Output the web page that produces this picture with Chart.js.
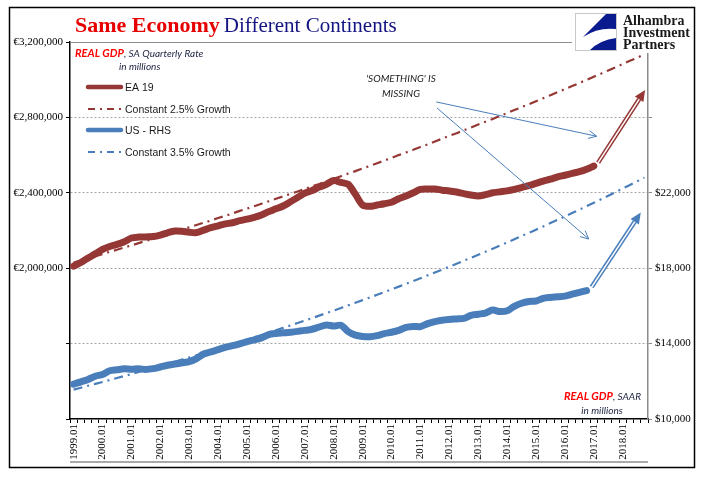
<!DOCTYPE html>
<html lang="en">
<head>
<meta charset="UTF-8">
<title>Same Economy Different Continents</title>
<script src="https://cdn.jsdelivr.net/npm/chart.js"></script>
<style>
  body { margin: 0; background: #fff; }
  .chart-container { width: 705px; height: 481px; }
</style>
</head>
<body>
<div class="chart-container"><canvas id="gdpChart" width="705" height="481"></canvas></div>
<script>
// categories: quarters 1999.01 .. 2018.04
const years = [1999, 2000, 2001, 2002, 2003, 2004, 2005, 2006, 2007, 2008,
               2009, 2010, 2011, 2012, 2013, 2014, 2015, 2016, 2017, 2018];
const quarters = ['01', '02', '03', '04'];

// EA 19 real GDP, SA quarterly rate, EUR millions (1999.01 - 2017.01)
const eaGdp = [
  2011000, 2030000, 2054000, 2076000,
  2100000, 2115000, 2126000, 2140000,
  2160000, 2165000, 2166000, 2168000,
  2176000, 2188000, 2197000, 2196000,
  2191000, 2189000, 2202000, 2215000,
  2225000, 2235000, 2241000, 2252000,
  2260000, 2270000, 2282000, 2300000,
  2315000, 2330000, 2352000, 2375000,
  2398000, 2412000, 2430000, 2445000,
  2465000, 2455000, 2445000, 2392000,
  2335000, 2328000, 2335000, 2342000,
  2350000, 2368000, 2383000, 2400000,
  2418000, 2420000, 2420000, 2414000,
  2410000, 2404000, 2396000, 2388000,
  2383000, 2390000, 2400000, 2405000,
  2410000, 2418000, 2428000, 2438000,
  2450000, 2462000, 2472000, 2484000,
  2493000, 2503000, 2512000, 2525000,
  2542000
];

// EA constant growth path, EUR millions (1999.01 - 2018.04)
const eaTrend = [
  2030000, 2041000, 2052000, 2064000,
  2075000, 2087000, 2098000, 2110000,
  2121000, 2133000, 2145000, 2156000,
  2168000, 2180000, 2192000, 2204000,
  2217000, 2229000, 2241000, 2253000,
  2266000, 2278000, 2291000, 2304000,
  2316000, 2329000, 2342000, 2355000,
  2368000, 2381000, 2394000, 2407000,
  2420000, 2434000, 2447000, 2461000,
  2474000, 2488000, 2502000, 2515000,
  2529000, 2543000, 2557000, 2571000,
  2585000, 2600000, 2614000, 2628000,
  2643000, 2657000, 2672000, 2687000,
  2702000, 2716000, 2731000, 2746000,
  2762000, 2777000, 2792000, 2808000,
  2823000, 2839000, 2854000, 2870000,
  2886000, 2902000, 2918000, 2934000,
  2950000, 2966000, 2983000, 2999000,
  3016000, 3032000, 3049000, 3066000,
  3083000, 3100000, 3117000, 3134000
];

// US real GDP, SAAR, USD billions (1999.01 - 2016.04)
const usGdp = [
  11850, 11970, 12100, 12270,
  12360, 12560, 12610, 12660,
  12640, 12660, 12630, 12670,
  12760, 12850, 12920, 12980,
  13040, 13200, 13450, 13560,
  13680, 13800, 13890, 13990,
  14100, 14200, 14300, 14480,
  14540, 14570, 14600, 14650,
  14700, 14760, 14880, 14990,
  14930, 14970, 14640, 14450,
  14380, 14360, 14420, 14530,
  14600, 14700, 14860, 14910,
  14900, 15060, 15170, 15240,
  15280, 15310, 15340, 15500,
  15560, 15620, 15780, 15700,
  15740, 15980, 16140, 16230,
  16260, 16400, 16450, 16480,
  16520, 16620, 16720, 16810
];

// US constant growth path (1999.01 - 2018.04)
const usTrend = [
  11560, 11660, 11761, 11862,
  11965, 12068, 12172, 12277,
  12383, 12490, 12599, 12707,
  12817, 12928, 13039, 13152,
  13265, 13380, 13496, 13612,
  13730, 13848, 13968, 14089,
  14210, 14333, 14457, 14581,
  14708, 14835, 14963, 15092,
  15222, 15354, 15486, 15620,
  15755, 15891, 16029, 16167,
  16307, 16447, 16590, 16733,
  16877, 17023, 17171, 17318,
  17468, 17619, 17771, 17924,
  18079, 18235, 18393, 18551,
  18712, 18874, 19037, 19201,
  19367, 19534, 19703, 19873,
  20045, 20218, 20393, 20569,
  20746, 20925, 21106, 21288,
  21472, 21658, 21845, 22034,
  22224, 22416, 22610, 22805
];

const leftTicks = { min: 1200000, max: 3200000, step: 400000, firstLabel: 2000000 };
const rightTicks = { min: 10000, max: 30000, step: 4000, lastLabel: 22000 };

const labels = [];
years.forEach(y => quarters.forEach(q => labels.push(y + '.' + q)));

const RED = '#953735';
const BLUE = '#4a7ebb';
const SERIF = '"Liberation Serif", "Times New Roman", serif';
const SANS = '"Liberation Sans", Arial, sans-serif';
const NOTE = 'Lato, "Open Sans", sans-serif';

function thinArrow(c, x1, y1, x2, y2) {
  const a = Math.atan2(y2 - y1, x2 - x1);
  c.save();
  c.strokeStyle = BLUE;
  c.lineWidth = 1;
  c.beginPath();
  c.moveTo(x1, y1);
  c.lineTo(x2, y2);
  c.moveTo(x2 - 9 * Math.cos(a - 0.45), y2 - 9 * Math.sin(a - 0.45));
  c.lineTo(x2, y2);
  c.lineTo(x2 - 9 * Math.cos(a + 0.45), y2 - 9 * Math.sin(a + 0.45));
  c.stroke();
  c.restore();
}

function hollowArrow(c, x1, y1, x2, y2, color) {
  const a = Math.atan2(y2 - y1, x2 - x1);
  const len = 11, hw = 5;
  const bx = x2 - len * Math.cos(a), by = y2 - len * Math.sin(a);
  c.save();
  c.lineCap = 'butt';
  c.strokeStyle = color;
  c.lineWidth = 4.5;
  c.beginPath(); c.moveTo(x1, y1); c.lineTo(bx, by); c.stroke();
  c.strokeStyle = '#fff';
  c.lineWidth = 1.5;
  c.beginPath(); c.moveTo(x1, y1); c.lineTo(bx + 2 * Math.cos(a), by + 2 * Math.sin(a)); c.stroke();
  c.fillStyle = color;
  c.beginPath();
  c.moveTo(x2, y2);
  c.lineTo(bx + hw * Math.sin(a), by - hw * Math.cos(a));
  c.lineTo(bx - hw * Math.sin(a), by + hw * Math.cos(a));
  c.closePath();
  c.fill();
  c.restore();
}

const decor = {
  id: 'decor',
  beforeDraw(chart) {
    const c = chart.ctx;
    c.save();
    c.fillStyle = '#fff';
    c.fillRect(0, 0, chart.width, chart.height);
    c.restore();
  },
  afterDraw(chart) {
    const c = chart.ctx;
    const xs = chart.scales.x, yl = chart.scales.y, yr = chart.scales.y1;
    const area = chart.chartArea;
    c.save();

    // plot top line and line under the date labels
    c.strokeStyle = '#8c8c8c';
    c.lineWidth = 1;
    c.beginPath();
    c.moveTo(area.left, area.top + 0.5); c.lineTo(572, area.top + 0.5);
    c.stroke();
    c.lineWidth = 1.5;
    c.beginPath();
    c.moveTo(area.left, 462); c.lineTo(area.right, 462);
    c.stroke();

    // title
    c.textBaseline = 'alphabetic';
    c.font = 'bold 22px ' + SERIF;
    c.fillStyle = '#e60000';
    c.fillText('Same Economy', 75, 32);
    const w = c.measureText('Same Economy').width;
    c.font = '21px ' + SERIF;
    c.fillStyle = '#141483';
    c.fillText('Different Continents', 75 + w + 4, 32);

    // logo
    c.fillStyle = '#fff';
    c.fillRect(572, 9, 120, 44);
    c.strokeStyle = '#c8c8c8';
    c.lineWidth = 1;
    c.strokeRect(575.5, 13.5, 41, 37);
    c.fillStyle = '#0a1a8f';
    c.beginPath();
    c.moveTo(616, 14);
    c.lineTo(606, 14);
    c.lineTo(583, 37);
    c.quadraticCurveTo(598, 27, 616, 29);
    c.closePath();
    c.fill();
    c.beginPath();
    c.moveTo(590, 50);
    c.quadraticCurveTo(600, 40, 616, 38);
    c.lineTo(616, 50);
    c.closePath();
    c.fill();
    c.fillStyle = '#1a1a1a';
    c.font = 'bold 14px ' + SERIF;
    c.fillText('Alhambra', 623, 25);
    c.fillText('Investment', 623, 37);
    c.fillText('Partners', 623, 49);

    // legend block
    c.font = 'bold italic 11px ' + NOTE;
    c.fillStyle = '#ff0000';
    c.fillText('REAL GDP', 75, 57);
    let lw = c.measureText('REAL GDP').width;
    c.font = 'italic 10px ' + NOTE;
    c.fillStyle = '#1c2340';
    c.fillText(', SA Quarterly Rate', 75 + lw, 57);
    c.fillText('in millions', 119, 70);

    const items = [
      { text: 'EA 19', color: RED, dash: [], width: 4.5, y: 87 },
      { text: 'Constant 2.5% Growth', color: RED, dash: [7, 5, 2, 5], width: 2, y: 109 },
      { text: 'US - RHS', color: BLUE, dash: [], width: 4.5, y: 130 },
      { text: 'Constant 3.5% Growth', color: BLUE, dash: [7, 5, 2, 5], width: 2, y: 152 }
    ];
    c.font = '10.5px ' + SANS;
    c.textBaseline = 'middle';
    items.forEach(it => {
      c.strokeStyle = it.color;
      c.lineWidth = it.width;
      c.lineCap = it.dash.length ? 'butt' : 'round';
      c.setLineDash(it.dash);
      c.beginPath(); c.moveTo(88, it.y); c.lineTo(121, it.y); c.stroke();
      c.setLineDash([]);
      c.fillStyle = '#1a1a1a';
      c.fillText(it.text, 125, it.y + 1);
    });

    // bottom-right note
    c.textBaseline = 'alphabetic';
    c.font = 'italic 10px ' + NOTE;
    const tail = ', SAAR';
    const tw = c.measureText(tail).width;
    c.fillStyle = '#1c2340';
    c.fillText(tail, 641 - tw, 400);
    c.font = 'bold italic 11px ' + NOTE;
    lw = c.measureText('REAL GDP').width;
    c.fillStyle = '#ff0000';
    c.fillText('REAL GDP', 641 - tw - lw, 400);
    c.font = 'italic 10px ' + NOTE;
    c.fillStyle = '#1c2340';
    c.textAlign = 'center';
    c.fillText('in millions', 602, 414);

    // annotation text
    c.font = 'italic 10px ' + NOTE;
    c.fillStyle = '#1a1a1a';
    c.fillText("'SOMETHING' IS", 401, 82);
    c.fillText('MISSING', 401, 97);
    c.textAlign = 'left';

    // thin arrows, anchored on the scales
    thinArrow(c, xs.getPixelForValue(50.2), yl.getPixelForValue(2882000),
                 xs.getPixelForValue(72.4), yl.getPixelForValue(2700000));
    thinArrow(c, xs.getPixelForValue(50.3), yl.getPixelForValue(2850000),
                 xs.getPixelForValue(71.3), yl.getPixelForValue(2155000));

    // "should be" arrows from the last observation
    hollowArrow(c, xs.getPixelForValue(72.6), yl.getPixelForValue(2560000),
                   xs.getPixelForValue(79.1), yl.getPixelForValue(2945000), RED);
    hollowArrow(c, xs.getPixelForValue(71.7), yr.getPixelForValue(17000),
                   xs.getPixelForValue(78.5), yr.getPixelForValue(20950), BLUE);

    // outer frame
    c.strokeStyle = '#000';
    c.lineWidth = 1.5;
    c.strokeRect(9.5, 7.5, 685, 460);
    c.restore();
  }
};

const ctx = document.getElementById('gdpChart').getContext('2d');
const gdpChart = new Chart(ctx, {
  type: 'line',
  data: {
    labels: labels,
    datasets: [
      {
        label: 'Constant 2.5% Growth',
        data: eaTrend,
        yAxisID: 'y',
        borderColor: RED,
        borderWidth: 2.2,
        borderDash: [9, 5, 2, 5],
        pointRadius: 0,
        tension: 0,
        order: 0
      },
      {
        label: 'Constant 3.5% Growth',
        data: usTrend,
        yAxisID: 'y1',
        borderColor: BLUE,
        borderWidth: 2.2,
        borderDash: [9, 5, 2, 5],
        pointRadius: 0,
        tension: 0,
        order: 0
      },
      {
        label: 'EA 19',
        data: eaGdp,
        yAxisID: 'y',
        borderColor: RED,
        borderWidth: 7,
        borderCapStyle: 'round',
        borderJoinStyle: 'round',
        pointRadius: 0,
        tension: 0.3,
        order: 1
      },
      {
        label: 'US - RHS',
        data: usGdp,
        yAxisID: 'y1',
        borderColor: BLUE,
        borderWidth: 7,
        borderCapStyle: 'round',
        borderJoinStyle: 'round',
        pointRadius: 0,
        tension: 0.3,
        order: 1
      }
    ]
  },
  options: {
    responsive: false,
    animation: false,
    layout: { padding: { top: 42, left: 0, right: 0, bottom: 0 } },
    plugins: {
      legend: { display: false },
      tooltip: { enabled: false },
      title: { display: false }
    },
    scales: {
      x: {
        type: 'category',
        offset: true,
        grid: { display: true, drawOnChartArea: false, offset: true, tickLength: 4, tickColor: '#000', tickWidth: 1 },
        border: { color: '#000', width: 1.5 },
        ticks: {
          autoSkip: false,
          minRotation: 90,
          maxRotation: 90,
          padding: 1,
          color: '#000',
          font: { family: SERIF, size: 11 },
          callback: function(value) {
            const lab = this.getLabelForValue(value);
            return lab.endsWith('.01') ? lab : '';
          }
        },
        afterFit: s => { s.height = 62; }
      },
      y: {
        position: 'left',
        min: leftTicks.min,
        max: leftTicks.max,
        grid: {
          color: ctx => (ctx.tick && (ctx.tick.value === leftTicks.max || ctx.tick.value === leftTicks.min)) ? 'rgba(0,0,0,0)' : '#a6a6a6',
          tickColor: '#000',
          tickLength: 4,
          lineWidth: 1
        },
        border: { color: '#000', width: 1.5, dash: [2, 2] },
        ticks: {
          stepSize: leftTicks.step,
          padding: 3,
          color: '#000',
          font: { family: SERIF, size: 11 },
          callback: v => v >= leftTicks.firstLabel ? '\u20AC' + v.toLocaleString('en-US') : ''
        },
        afterFit: s => { s.width = 70; }
      },
      y1: {
        position: 'right',
        min: rightTicks.min,
        max: rightTicks.max,
        grid: { drawOnChartArea: false, tickColor: '#8c8c8c', tickLength: 4 },
        border: { color: '#8c8c8c', width: 1.5 },
        ticks: {
          stepSize: rightTicks.step,
          padding: 3,
          color: '#000',
          font: { family: SERIF, size: 11 },
          callback: v => v <= rightTicks.lastLabel ? '$' + v.toLocaleString('en-US') : ''
        },
        afterFit: s => { s.width = 57; }
      }
    }
  },
  plugins: [decor]
});
</script>
</body>
</html>
